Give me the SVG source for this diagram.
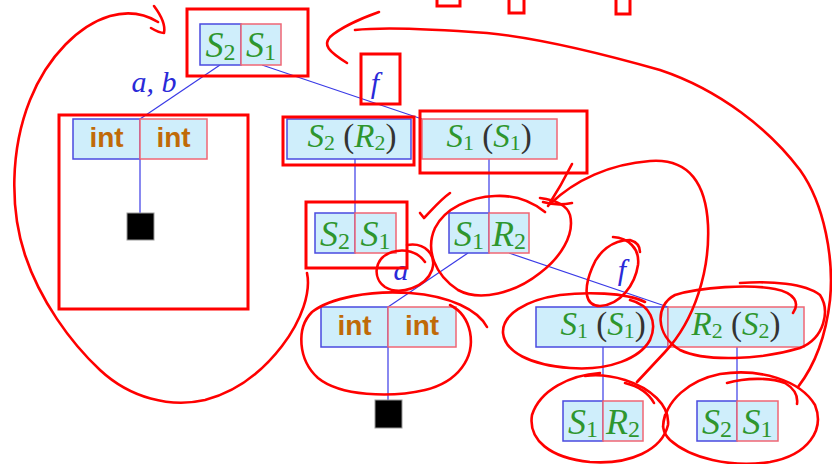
<svg xmlns="http://www.w3.org/2000/svg" width="832" height="464" viewBox="0 0 832 464">
  <style>
    .cell { fill: #cfeefb; stroke-width: 1.5; }
    .lb { stroke: #4a4ae0; }
    .rb { stroke: #f06674; }
    .edge { stroke: #3a3ae6; stroke-width: 1.2; fill: none; }
    .leaf { fill: #000; stroke: #999; stroke-width: 1; }
    .m { font-family: "Liberation Serif", serif; fill: #2e962e; text-anchor: middle; }
    .pair { font-size: 36px; }
    .single { font-size: 33px; }
    .it { font-style: italic; }
    .par { fill: #333; font-style: normal; }
    .int { font-family: "Liberation Sans", Arial, sans-serif; font-weight: bold; font-size: 28px; fill: #c06a08; text-anchor: middle; }
    .lab { font-family: "Liberation Serif", serif; font-style: italic; font-size: 30px; fill: #2a2ad8; text-anchor: middle; }
    .ink { fill: none; stroke: #ff0000; stroke-width: 2.6; stroke-linecap: round; stroke-linejoin: round; }
    .box { fill: none; stroke: #ff0000; stroke-width: 3; }
  </style>

  <!-- tree edges -->
  <g id="connectors">
    <line class="edge" x1="220" y1="65" x2="140" y2="119"/>
    <line class="edge" x1="262" y1="65" x2="422" y2="119"/>
    <line class="edge" x1="140" y1="159" x2="140" y2="213"/>
    <line class="edge" x1="355" y1="159" x2="355" y2="213"/>
    <line class="edge" x1="489" y1="159" x2="489" y2="213"/>
    <line class="edge" x1="468" y1="253" x2="388" y2="307"/>
    <line class="edge" x1="509" y1="253" x2="668" y2="307"/>
    <line class="edge" x1="388" y1="347" x2="388" y2="400"/>
    <line class="edge" x1="603" y1="347" x2="603" y2="401"/>
    <line class="edge" x1="737" y1="347" x2="737" y2="401"/>
    <text class="lab" x="154" y="92">a, b</text>
    <text class="lab" x="375" y="93">f</text>
    <text class="lab" x="401" y="280">a</text>
    <text class="lab" x="622" y="280">f</text>
  </g>

  <!-- root pair S2 | S1 -->
  <g id="root">
    <rect class="cell lb" x="200" y="24" width="41" height="41"/>
    <rect class="cell rb" x="241" y="24" width="40" height="41"/>
    <text class="m pair" x="220.5" y="57"><tspan class="it">S</tspan><tspan font-size="24" dy="3">2</tspan></text>
    <text class="m pair" x="261" y="57"><tspan class="it">S</tspan><tspan font-size="24" dy="3">1</tspan></text>
  </g>

  <!-- int | int under a, b -->
  <g id="int-pair-1">
    <rect class="cell lb" x="73" y="119" width="67" height="40"/>
    <rect class="cell rb" x="140" y="119" width="67" height="40"/>
    <text class="int" x="106.5" y="147">int</text>
    <text class="int" x="173.5" y="147">int</text>
  </g>
  <g id="leaf-1">
    <rect class="leaf" x="127" y="213" width="27" height="27"/>
  </g>

  <!-- S2 (R2) -->
  <g id="s2-r2">
    <rect class="cell lb" x="287" y="119" width="124" height="40"/>
    <text class="m single" x="352" y="147"><tspan class="it">S</tspan><tspan font-size="22" dy="3">2</tspan><tspan dy="-3" class="par"> (</tspan><tspan class="it">R</tspan><tspan font-size="22" dy="3">2</tspan><tspan dy="-3" class="par">)</tspan></text>
  </g>

  <!-- S1 (S1) -->
  <g id="s1-s1-top">
    <rect class="cell rb" x="422" y="119" width="135" height="40"/>
    <text class="m single" x="489" y="147"><tspan class="it">S</tspan><tspan font-size="22" dy="3">1</tspan><tspan dy="-3" class="par"> (</tspan><tspan class="it">S</tspan><tspan font-size="22" dy="3">1</tspan><tspan dy="-3" class="par">)</tspan></text>
  </g>

  <!-- S2 | S1 under S2 (R2) -->
  <g id="s2s1-mid">
    <rect class="cell lb" x="315" y="213" width="40" height="40"/>
    <rect class="cell rb" x="355" y="213" width="41" height="40"/>
    <text class="m pair" x="335" y="246"><tspan class="it">S</tspan><tspan font-size="24" dy="3">2</tspan></text>
    <text class="m pair" x="375.5" y="246"><tspan class="it">S</tspan><tspan font-size="24" dy="3">1</tspan></text>
  </g>

  <!-- S1 | R2 under S1 (S1) -->
  <g id="s1r2-mid">
    <rect class="cell lb" x="449" y="213" width="40" height="40"/>
    <rect class="cell rb" x="489" y="213" width="40" height="40"/>
    <text class="m pair" x="469" y="246"><tspan class="it">S</tspan><tspan font-size="24" dy="3">1</tspan></text>
    <text class="m pair" x="509" y="246"><tspan class="it">R</tspan><tspan font-size="24" dy="3">2</tspan></text>
  </g>

  <!-- int | int under a -->
  <g id="int-pair-2">
    <rect class="cell lb" x="321" y="307" width="67" height="40"/>
    <rect class="cell rb" x="388" y="307" width="68" height="40"/>
    <text class="int" x="354.5" y="335">int</text>
    <text class="int" x="422" y="335">int</text>
  </g>
  <g id="leaf-2">
    <rect class="leaf" x="375" y="400" width="27" height="28"/>
  </g>

  <!-- S1 (S1) and R2 (S2) under f -->
  <g id="s1-s1-low">
    <rect class="cell lb" x="536" y="307" width="132" height="40"/>
    <text class="m single" x="603" y="335"><tspan class="it">S</tspan><tspan font-size="22" dy="3">1</tspan><tspan dy="-3" class="par"> (</tspan><tspan class="it">S</tspan><tspan font-size="22" dy="3">1</tspan><tspan dy="-3" class="par">)</tspan></text>
  </g>
  <g id="r2-s2-low">
    <rect class="cell rb" x="668" y="307" width="136" height="40"/>
    <text class="m single" x="736" y="335"><tspan class="it">R</tspan><tspan font-size="22" dy="3">2</tspan><tspan dy="-3" class="par"> (</tspan><tspan class="it">S</tspan><tspan font-size="22" dy="3">2</tspan><tspan dy="-3" class="par">)</tspan></text>
  </g>

  <!-- bottom pairs -->
  <g id="s1r2-low">
    <rect class="cell lb" x="563" y="401" width="40" height="40"/>
    <rect class="cell rb" x="603" y="401" width="40" height="40"/>
    <text class="m pair" x="583" y="434"><tspan class="it">S</tspan><tspan font-size="24" dy="3">1</tspan></text>
    <text class="m pair" x="623" y="434"><tspan class="it">R</tspan><tspan font-size="24" dy="3">2</tspan></text>
  </g>
  <g id="s2s1-low">
    <rect class="cell lb" x="697" y="401" width="40" height="40"/>
    <rect class="cell rb" x="737" y="401" width="41" height="40"/>
    <text class="m pair" x="717" y="434"><tspan class="it">S</tspan><tspan font-size="24" dy="3">2</tspan></text>
    <text class="m pair" x="757.5" y="434"><tspan class="it">S</tspan><tspan font-size="24" dy="3">1</tspan></text>
  </g>

  <!-- red pen markup -->
  <g id="markup">
    <!-- boxes -->
    <rect class="box" x="187" y="9" width="121" height="67"/>
    <rect class="box" x="361" y="54" width="39" height="50"/>
    <rect class="box" x="59" y="115" width="189" height="194"/>
    <rect class="box" x="283" y="117" width="131" height="48"/>
    <rect class="box" x="420" y="111" width="167" height="62"/>
    <rect class="box" x="306" y="202" width="101" height="66"/>
    <rect class="box" x="437" y="-10" width="23" height="16"/>
    <rect class="box" x="509" y="-10" width="15" height="23"/>
    <rect class="box" x="616" y="-10" width="14" height="24"/>

    <!-- big loop on the left, arrow into the root -->
    <path class="ink" d="M307,273 C311,292 302,320 282,346 C262,372 236,392 205,400 C170,408 130,398 100,370 C70,342 40,300 25,255 C10,210 10,150 30,100 C48,55 80,25 110,16 C128,11 145,14 158,22"/>
    <path class="ink" d="M154,6 C160,14 166,24 164,33 M151,28 C156,31 160,33 164,33"/>

    <!-- long return arc on the right -->
    <path class="ink" d="M379,12 C362,18 340,28 330,37 C323,45 328,51 347,63"/>
    <path class="ink" d="M355,30 C380,27 420,28 487,33 C540,38 600,53 660,70 C720,90 770,130 800,170 C825,205 834,260 830,300 C826,335 815,365 798,387"/>
    <path class="ink" d="M727,383 C745,378 770,377 785,383 C795,389 798,397 797,404"/>

    <!-- loop from S1 | R2 down to the lower pair -->
    <path class="ink" d="M550,204 C575,180 610,164 650,161 C690,158 706,185 708,225 C710,270 695,320 665,352 L637,382"/>
    <path class="ink" d="M572,164 C565,178 557,192 548,206 M543,202 C553,205 563,205 572,203"/>
    <path class="ink" d="M625,383 C637,386 648,392 654,403"/>

    <!-- tick -->
    <path class="ink" d="M420,213 L424,218 C432,210 440,200 450,193"/>

    <!-- rings -->
    <path class="ink" d="M545,212 C530,200 512,195 495,196 C470,197 445,208 435,228 C425,250 435,275 458,290 C480,302 515,293 540,273 C560,258 575,235 570,215 C567,205 555,200 540,198"/>
    <path class="ink" d="M407,245 C425,242 437,255 432,270 C426,287 400,296 385,287 C372,278 374,258 392,252 C405,248 418,252 425,262"/>
    <path class="ink" d="M487,327 C478,310 450,296 410,293 C370,290 330,298 312,312 C296,328 298,360 318,378 C340,396 390,398 425,390 C458,382 475,358 470,332 C467,318 460,310 450,305"/>
    <path class="ink" d="M613,237 C628,238 640,248 638,265 C635,285 620,305 600,306 C585,306 583,290 592,268 C598,252 612,240 630,240 C637,242 640,247 640,252"/>
    <path class="ink" d="M645,302 C625,292 585,292 560,295 C525,300 502,315 503,333 C505,352 530,365 570,368 C610,371 640,358 650,340 C658,322 650,305 630,300"/>
    <path class="ink" d="M793,313 C800,303 795,293 775,289 C750,284 700,287 675,295 C655,305 655,335 680,350 C705,362 760,360 800,348 C825,338 830,310 820,295 C805,283 770,281 740,283"/>
    <path class="ink" d="M600,373 C570,375 540,390 532,415 C528,440 550,458 590,462 C630,465 662,450 668,425 C670,405 650,388 625,380 C612,376 600,374 585,376"/>
    <path class="ink" d="M663,427 C665,400 690,380 720,374 C760,368 800,380 815,405 C825,430 808,455 770,462 C730,468 690,458 670,440 C662,432 662,425 665,415"/>
  </g>
</svg>
